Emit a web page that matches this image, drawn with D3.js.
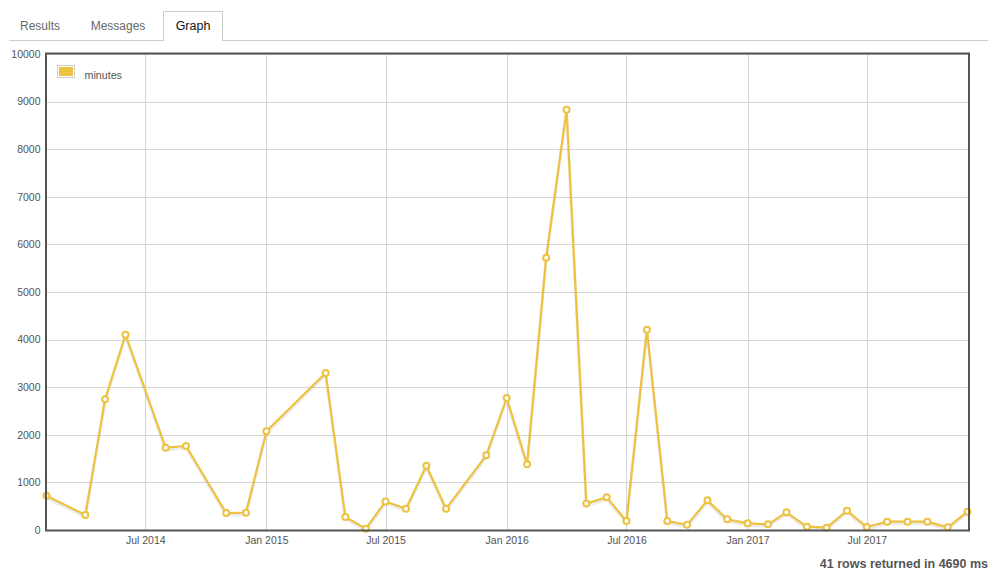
<!DOCTYPE html>
<html>
<head>
<meta charset="utf-8">
<script src="https://cdn.jsdelivr.net/npm/d3@7"></script>
<style>
  html, body { margin: 0; padding: 0; background: #fff; }
  svg { display: block; font-family: "Liberation Sans", Arial, Helvetica, sans-serif; }
</style>
</head>
<body>
<svg id="chart" width="1003" height="586"></svg>
<script>
// ---- data ----
const months = [
  "2014-02","2014-04","2014-05","2014-06","2014-08","2014-09","2014-11","2014-12",
  "2015-01","2015-04","2015-05","2015-06","2015-07","2015-08","2015-09","2015-10","2015-12",
  "2016-01","2016-02","2016-03","2016-04","2016-05","2016-06","2016-07","2016-08","2016-09","2016-10","2016-11","2016-12",
  "2017-01","2017-02","2017-03","2017-04","2017-05","2017-06","2017-07","2017-08","2017-09","2017-10","2017-11","2017-12"
];
const minutes = [
  720, 315, 2745, 4103, 1730, 1765, 355, 365,
  2073, 3298, 273, 28, 600, 448, 1351, 448, 1569,
  2773, 1380, 5721, 8830, 556, 686, 189, 4208, 189, 108, 623, 224,
  140, 119, 371, 70, 49, 406, 63, 175, 175, 175, 56, 385
];
const xTickDates = ["2014-07","2015-01","2015-07","2016-01","2016-07","2017-01","2017-07"];
const xTickLabels = ["Jul 2014","Jan 2015","Jul 2015","Jan 2016","Jul 2016","Jan 2017","Jul 2017"];
const yTicks = [0,1000,2000,3000,4000,5000,6000,7000,8000,9000,10000];
const seriesName = "minutes";
const tabs = ["Results","Messages","Graph"];
const footer = "41 rows returned in 4690 ms";

// ---- layout ----
const svg = d3.select("#chart");
const parse = d3.timeParse("%Y-%m");
const L = 46.5, R = 967.5, T = 54, B = 530;
const x = d3.scaleTime().domain([parse("2014-02"), parse("2017-12")]).range([L, R]);
const y = d3.scaleLinear().domain([0, 10000]).range([B, T]);
const color = "#edc240";

// tabs
const tabBar = svg.append("g");
tabBar.append("line").attr("x1", 9).attr("x2", 988).attr("y1", 40.5).attr("y2", 40.5)
  .attr("stroke", "#cccccc");
tabBar.append("path")
  .attr("d", "M163.5,41 V11.5 H222.5 V41")
  .attr("fill", "#fff").attr("stroke", "#cccccc");
tabBar.append("rect").attr("x", 164).attr("y", 40).attr("width", 58).attr("height", 2).attr("fill", "#fff");
const tabX = [40, 118, 193];
tabs.forEach((t, i) => {
  tabBar.append("text").attr("x", tabX[i]).attr("y", 29.5)
    .attr("text-anchor", "middle")
    .attr("font-size", i === 2 ? 12.5 : 12)
    .attr("fill", i === 2 ? "#111" : "#666")
    .text(t);
});

// grid
const grid = svg.append("g");
grid.selectAll(".hg").data(yTicks).join("line")
  .attr("x1", L).attr("x2", R + 1)
  .attr("y1", d => Math.round(y(d)) + 0.5).attr("y2", d => Math.round(y(d)) + 0.5)
  .attr("stroke", "#d5d5d5").attr("stroke-width", 1);
grid.selectAll(".vg").data(xTickDates).join("line")
  .attr("x1", d => Math.round(x(parse(d))) + 0.5).attr("x2", d => Math.round(x(parse(d))) + 0.5)
  .attr("y1", T).attr("y2", B)
  .attr("stroke", "#d5d5d5").attr("stroke-width", 1);

// axes via d3
const yAxis = d3.axisLeft(y).tickValues(yTicks).tickSize(0).tickPadding(0).tickFormat(d3.format("d"));
const yg = svg.append("g").attr("transform", `translate(${L - 6},0)`).call(yAxis);
yg.select(".domain").remove();
yg.selectAll("text").attr("font-size", 10.5).attr("fill", "#545454")
  .attr("font-family", "Liberation Sans, Arial, sans-serif");

const xAxis = d3.axisBottom(x).tickValues(xTickDates.map(parse)).tickSize(0).tickPadding(0)
  .tickFormat((d, i) => xTickLabels[i]);
const xg = svg.append("g").attr("transform", `translate(0,${B + 6.5})`).call(xAxis);
xg.select(".domain").remove();
xg.selectAll("text").attr("font-size", 10.5).attr("fill", "#545454")
  .attr("font-family", "Liberation Sans, Arial, sans-serif");

// series
const data = months.map((m, i) => ({ date: parse(m), v: minutes[i] }));
const line = d3.line().x(d => x(d.date)).y(d => y(d.v));
svg.append("path").datum(data).attr("d", line)
  .attr("fill", "none").attr("stroke", "rgba(0,0,0,0.08)").attr("stroke-width", 3)
  .attr("transform", "translate(0,2)").attr("stroke-linejoin", "round");
svg.append("path").datum(data).attr("d", line)
  .attr("fill", "none").attr("stroke", color).attr("stroke-width", 2.2)
  .attr("stroke-linejoin", "round");
svg.append("g").selectAll("circle").data(data).join("circle")
  .attr("cx", d => x(d.date)).attr("cy", d => y(d.v)).attr("r", 3)
  .attr("fill", "#fff").attr("stroke", color).attr("stroke-width", 2);

// border
svg.append("rect").attr("x", L - 0.5).attr("y", T - 0.5)
  .attr("width", R - L + 2).attr("height", B - T + 1)
  .attr("fill", "none").attr("stroke", "#545454").attr("stroke-width", 2);

// legend
const lg = svg.append("g");
lg.append("rect").attr("x", 57.5).attr("y", 65.5).attr("width", 17).attr("height", 12)
  .attr("fill", "#fff").attr("stroke", "#cccccc");
lg.append("rect").attr("x", 59).attr("y", 67).attr("width", 14).attr("height", 9).attr("fill", color);
lg.append("text").attr("x", 84.5).attr("y", 79).attr("font-size", 10.7).attr("fill", "#545454").text(seriesName);

// footer
svg.append("text").attr("x", 988).attr("y", 568).attr("text-anchor", "end")
  .attr("font-size", 12.5).attr("font-weight", "bold").attr("fill", "#555").text(footer);
</script>
</body>
</html>
